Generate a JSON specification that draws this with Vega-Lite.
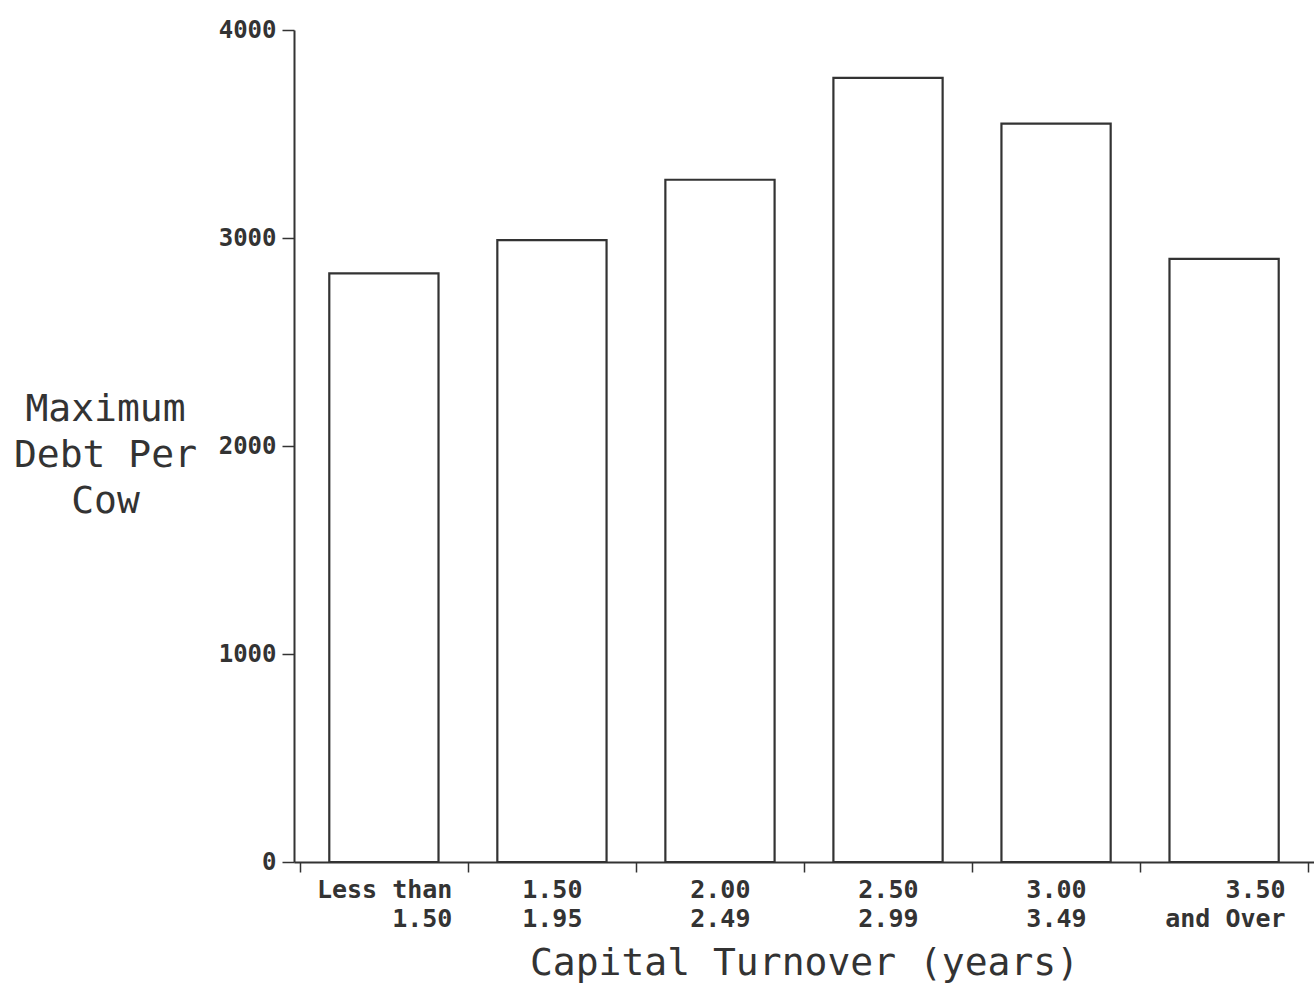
{
  "$schema": "https://vega.github.io/schema/vega-lite/v6.json",
  "autosize": {"type": "none"},
  "padding": {"left": 294, "top": 30, "right": 0, "bottom": 128},
  "width": 1020,
  "height": 832,
  "background": "white",
  "config": {"view": {"stroke": null}, "font": "DejaVu Sans Mono"},
  "data": {
    "values": [
      {"range": "Less than|1.50", "debt": 2830},
      {"range": "1.50|1.95", "debt": 2990},
      {"range": "2.00|2.49", "debt": 3280},
      {"range": "2.50|2.99", "debt": 3770},
      {"range": "3.00|3.49", "debt": 3550},
      {"range": "3.50|and Over", "debt": 2900}
    ]
  },
  "mark": {"type": "bar", "fill": "white", "stroke": "#333333", "strokeWidth": 2.2, "width": {"band": 0.65}},
  "encoding": {
    "x": {
      "field": "range",
      "type": "nominal",
      "sort": null,
      "scale": {"paddingInner": 0, "paddingOuter": 0.035},
      "axis": {
        "title": "Capital Turnover (years)",
        "titleFont": "DejaVu Sans Mono",
        "titleFontSize": 38,
        "titleFontWeight": "normal",
        "titleColor": "#333333",
        "titleY": 101,
        "titleBaseline": "middle",
        "labelExpr": "datum.value ? split(datum.value, '|') : ''",
        "labelAngle": 0,
        "labelAlign": "right",
        "labelOffset": {
          "condition": [
            {"test": "datum.value === 'Less than|1.50'", "value": 68},
            {"test": "datum.value === '3.50|and Over'", "value": 61}
          ],
          "value": 30
        },
        "labelFont": "DejaVu Sans Mono",
        "labelFontSize": 25,
        "labelFontWeight": "bold",
        "labelColor": "#333333",
        "labelLineHeight": 29,
        "labelPadding": 5,
        "tickBand": "extent",
        "tickSize": 10,
        "tickColor": "#333333",
        "tickWidth": 1.5,
        "domainColor": "#333333",
        "domainWidth": 2
      }
    },
    "y": {
      "field": "debt",
      "type": "quantitative",
      "scale": {"domain": [0, 4000], "nice": false},
      "axis": {
        "title": ["Maximum", "Debt Per", "Cow"],
        "titleAngle": 0,
        "titleAlign": "center",
        "titleBaseline": "alphabetic",
        "titleX": -189,
        "titleY": 390,
        "titleFont": "DejaVu Sans Mono",
        "titleFontSize": 38,
        "titleFontWeight": "normal",
        "titleColor": "#333333",
        "titleLineHeight": 46,
        "values": [0, 1000, 2000, 3000, 4000],
        "format": "d",
        "labelFont": "DejaVu Sans Mono",
        "labelFontSize": 24,
        "labelFontWeight": "bold",
        "labelColor": "#333333",
        "labelPadding": 6,
        "tickSize": 12,
        "tickColor": "#333333",
        "tickWidth": 1.5,
        "domainColor": "#333333",
        "domainWidth": 2,
        "grid": false
      }
    }
  }
}
